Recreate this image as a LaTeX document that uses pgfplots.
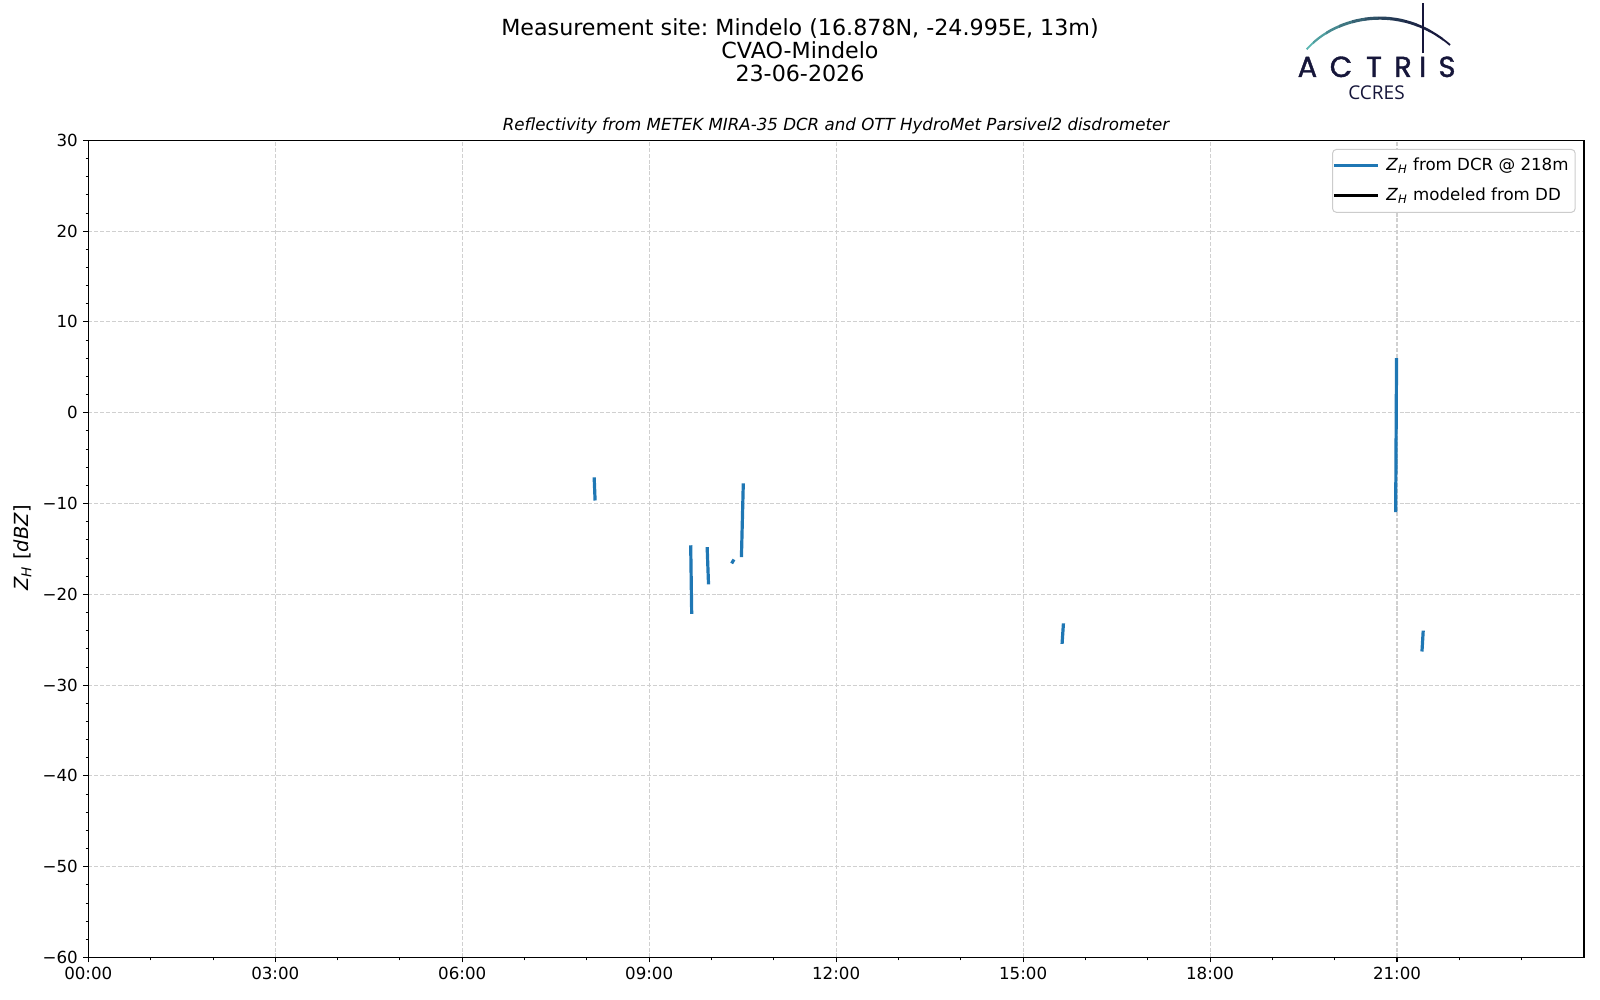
\documentclass[border=0pt]{standalone}
\usepackage{fontspec}
\setmainfont{DejaVu Sans}
\newfontfamily\poppins{Poppins}[FakeBold=1.3]
\newfontfamily\opensans{Open Sans}
\usepackage{pgfplots}
\pgfplotsset{compat=1.18}
\frenchspacing
\definecolor{tabblue}{HTML}{1F77B4}
\definecolor{gridc}{HTML}{D0D0D0}
\definecolor{legc}{HTML}{CCCCCC}
\definecolor{navy}{HTML}{16163A}
\definecolor{logoteal}{HTML}{5AB5B1}
\pgfplotstableread[row sep=\\]{
x y\\
8.117 -7.12\\
8.132 -9.67\\
nan nan\\
9.666 -14.6\\
9.682 -22.16\\
nan nan\\
9.930 -14.8\\
9.952 -18.9\\
nan nan\\
10.323 -16.6\\
10.360 -16.17\\
nan nan\\
10.480 -15.9\\
10.510 -7.78\\
nan nan\\
15.625 -25.46\\
15.647 -23.2\\
nan nan\\
20.978 -10.95\\
20.992 6.0\\
nan nan\\
21.400 -26.3\\
21.420 -24.0\\
}\dcrdata
\begin{document}
\begin{tikzpicture}
\useasboundingbox (0,0) rectangle (800pt,500pt);
\begin{axis}[
  at={(44.15pt,21.25pt)}, anchor=south west,
  scale only axis, width=747.85pt, height=408.6pt,
  xmin=0, xmax=24, ymin=-60, ymax=30,
  xtick={0,3,...,21},
  xticklabels={00:00,03:00,06:00,09:00,12:00,15:00,18:00,21:00},
  minor xtick={1,2,4,5,7,8,10,11,13,14,16,17,19,20,22,23},
  ytick={-60,-50,...,30},
  yticklabels={−60,−50,−40,−30,−20,−10,0,10,20,30},
  minor y tick num=4,
  tick align=outside, tick pos=left,
  major tick length=2.43pt, minor tick length=1.39pt,
  major tick style={black, line width=0.56pt},
  minor tick style={black, line width=0.42pt},
  axis line style={line width=0.56pt},
  xmajorgrids, ymajorgrids,
  major grid style={gridc, line width=0.56pt, dash pattern=on 2.05pt off 0.89pt},
  ticklabel style={font=\fontsize{8.33}{10}\selectfont},
  xticklabel style={inner sep=2.4pt},
  yticklabel style={inner sep=2.6pt},
  /pgf/number format/assume math mode=true,
  unbounded coords=jump,
  legend style={at={(1,1)}, anchor=north east, xshift=-4.15pt, yshift=-4.3pt,
    draw=legc, rounded corners=2pt, line width=0.5pt, fill=white,
    font=\fontsize{8.33}{10}\selectfont, inner xsep=0pt, inner ysep=3.1pt,
    row sep=4.7pt, column sep=0pt,
    nodes={inner xsep=3.33pt, inner ysep=1pt, text height=6.3pt, text depth=2pt}},
  legend cell align=left,
  legend image code/.code={\path (0pt,0pt) -- (22pt,0pt);\draw[#1] (2.9pt,0pt) -- (20.6pt,0pt);},
]
\addplot[tabblue, line width=1.6pt] table[x=x, y=y] {\dcrdata};
\addlegendentry{\textit{Z}\textsubscript{\textit{H}} from DCR @ 218m}
\addlegendimage{black, line width=1.6pt}
\addlegendentry{\textit{Z}\textsubscript{\textit{H}} modeled from DD}
\end{axis}
% y label
\node[rotate=90, font=\fontsize{9.72}{12}\selectfont] at (11.2pt,226pt) {\textit{Z}\textsubscript{\textit{H}} [\textit{dBZ}]};
% titles
\node[font=\fontsize{11.1}{13}\selectfont, anchor=base, inner sep=0pt] at (400pt,482pt) {Measurement site: Mindelo (16.878N, -24.995E, 13m)};
\node[font=\fontsize{11.1}{13}\selectfont, anchor=base, inner sep=0pt] at (400pt,470.75pt) {CVAO-Mindelo};
\node[font=\fontsize{11.1}{13}\selectfont, anchor=base, inner sep=0pt] at (400pt,459.25pt) {23-06-2026};
\node[font=\fontsize{8.33}{10}\selectfont\itshape, anchor=base, inner sep=0pt] at (418pt,434.5pt) {Reflectivity from METEK MIRA-35 DCR and OTT HydroMet Parsivel2 disdrometer};
% logo
\foreach \i in {0,...,11} {
  \pgfmathsetmacro\xa{650+\i*6.5}
  \pgfmathsetmacro\xb{\xa+6.6}
  \pgfmathsetmacro\pct{100*(1-\i/11)^1.6}
  \pgfmathsetmacro\lw{0.8+0.8*sin(180*(\i+0.5)/12)}
  \begin{scope}
    \clip (\xa pt,465pt) rectangle (\xb pt,500pt);
    \draw[color=logoteal!\pct!navy, line width=\lw pt] (653.35pt,475.35pt) .. controls (668pt,492pt) and (700pt,499pt) .. (725pt,477.5pt);
  \end{scope}
}
\draw[navy, line width=1.1pt] (711.35pt,473.35pt) -- (711.35pt,498.65pt);
\foreach \c/\xx in {A/653.7,C/670.5,T/687,R/701.5,I/711.35,S/723.5} {
  \node[font=\poppins\fontsize{14.5}{14.5}\selectfont, text=navy, anchor=base, inner sep=0pt] at (\xx pt,461.5pt) {\c};
}
\node[font=\opensans\fontsize{9.5}{10}\selectfont, text=navy, anchor=base, inner sep=0pt] at (688.25pt,450.35pt) {CCRES};
\end{tikzpicture}
\end{document}
